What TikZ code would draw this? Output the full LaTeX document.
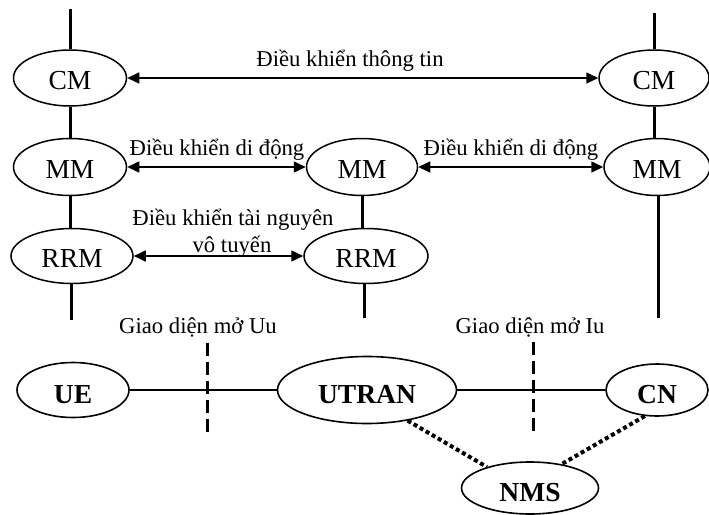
\documentclass[tikz,border=0pt]{standalone}
\usepackage{fontspec}
\setmainfont{Liberation Serif}
\usetikzlibrary{shapes.geometric,arrows.meta}
\begin{document}
\begin{tikzpicture}[x=1pt,y=-1pt,
 el/.style={draw,ellipse,line width=1.5pt,inner sep=0pt,text height=23pt,text depth=0pt,font=\fontsize{27.5}{30}\selectfont},
 bel/.style={el,line width=1.6pt,text height=26pt,font=\fontsize{27.5}{30}\selectfont\bfseries},
 vline/.style={line width=3pt},
 biarrow/.style={line width=1.6pt,{Triangle[length=12pt,width=11pt]}-{Triangle[length=12pt,width=11pt]}},
 lbl/.style={font=\fontsize{22.7}{26}\selectfont,inner sep=0pt,anchor=base},
 conn/.style={line width=1.3pt},
 dashline/.style={line width=3pt,dash pattern=on 13pt off 6pt},
 dotline/.style={line width=4pt,dash pattern=on 4pt off 3pt}
]
\useasboundingbox (0,0) rectangle (709,514);
% upper protocol stacks
\node[el,minimum width=113pt,minimum height=56pt] (cmL) at (70,78) {CM};
\node[el,minimum width=113pt,minimum height=57pt] (mmL) at (70,167) {MM};
\node[el,minimum width=122pt,minimum height=55pt] (rrmL) at (72,256) {RRM};
\node[el,minimum width=111pt,minimum height=57pt] (mmM) at (362,167) {MM};
\node[el,minimum width=124pt,minimum height=55pt] (rrmM) at (366,256) {RRM};
\node[el,minimum width=110pt,minimum height=56pt] (cmR) at (654,78) {CM};
\node[el,minimum width=106pt,minimum height=57pt] (mmR) at (657,167) {MM};
% vertical lines
\coordinate (tL) at (70,9);
\coordinate (bL) at (71,320);
\coordinate (bM) at (364,318);
\coordinate (tR) at (654,13);
\coordinate (bR) at (658,318);
\draw[vline] (tL) -- (cmL.north);
\draw[vline] (cmL.south) -- (mmL.north);
\draw[vline] (mmL.south) -- (mmL.south |- rrmL.north);
\draw[vline] (rrmL.south -| bL) -- (bL);
\draw[vline] (mmM.south) -- (mmM.south |- rrmM.north);
\draw[vline] (rrmM.south -| bM) -- (bM);
\draw[vline] (tR) -- (cmR.north);
\draw[vline] (cmR.south) -- (cmR.south |- mmR.north);
\draw[vline] (mmR.south -| bR) -- (bR);
% horizontal arrows
\draw[biarrow] (cmL.east) -- (cmR.west);
\draw[biarrow] (mmL.east) -- (mmM.west);
\draw[biarrow] (mmM.east) -- (mmR.west);
\draw[biarrow] (rrmL.east) -- (rrmM.west);
% labels
\node[lbl] (l1) at (350,66) {Điều khiển thông tin};
\node[lbl] (l2) at (217,155) {Điều khiển di động};
\node[lbl] (l3) at (511,155) {Điều khiển di động};
\node[lbl] (l4) at (233,225) {Điều khiển tài nguyên};
\node[lbl] (l5) at (232,252) {vô tuyến};
\node[lbl] (l6) at (198,333) {Giao diện mở Uu};
\node[lbl] (l7) at (530,333) {Giao diện mở Iu};
% lower network
\node[bel,minimum width=112pt,minimum height=55pt] (ue) at (73,390) {UE};
\node[bel,minimum width=179pt,minimum height=67pt] (utran) at (367,390) {UTRAN};
\node[bel,minimum width=102pt,minimum height=52pt] (cn) at (657,390) {CN};
\node[bel,minimum width=137pt,minimum height=52pt] (nms) at (530,488) {NMS};
\draw[conn] (ue) -- (utran);
\draw[conn] (utran) -- (cn);
\coordinate (d1a) at (207,343);
\coordinate (d1b) at (207,432);
\coordinate (d2a) at (533,342);
\coordinate (d2b) at (533,432);
\draw[dashline] (d1a) -- (d1b);
\draw[dashline] (d2a) -- (d2b);
\draw[dotline] (utran.323) -- (nms.154);
\draw[dotline] (cn.245) -- (nms.37);
\end{tikzpicture}
\end{document}
